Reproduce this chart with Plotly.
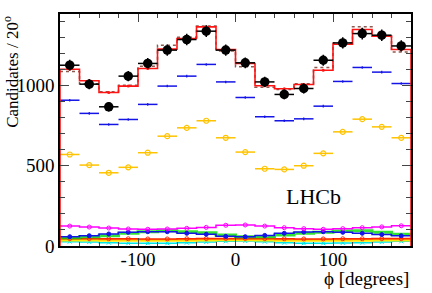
import numpy as np
import plotly.graph_objects as go

# ---- data ----
bin_edges = list(range(-180, 181, 20))
bin_centers = list(range(-170, 171, 20))

data_vals = [1126, 1008, 867, 1058, 1137, 1220, 1286, 1338, 1220, 1141,
             1022, 944, 981, 1157, 1265, 1323, 1313, 1246]
total_fit = [1101, 1029, 956, 996, 1106, 1226, 1292, 1365, 1224, 1137,
             998, 979, 1006, 1095, 1257, 1348, 1307, 1224]
alt_fit = [1087, 1010, 960, 1002, 1120, 1251, 1300, 1370, 1215, 1116,
           988, 975, 1010, 1112, 1265, 1365, 1307, 1209]
blue_comp = [908, 826, 757, 788, 882, 996, 1058, 1131, 1022, 925,
             805, 780, 792, 871, 1025, 1112, 1083, 1012]
gold_comp = [570, 504, 456, 490, 581, 684, 736, 780, 674, 585,
             481, 477, 500, 577, 711, 790, 742, 674]
magenta_comp = [124, 118, 112, 106, 104, 106, 110, 116, 129, 131,
                124, 114, 108, 104, 108, 114, 119, 126]
blue_small = [58, 64, 75, 85, 89, 89, 79, 73, 60, 58,
              66, 79, 87, 89, 85, 79, 71, 64]
green_small = [52, 58, 64, 79, 89, 95, 89, 83, 68, 58,
               58, 68, 79, 85, 93, 95, 85, 73]
red_small = [46, 46, 45, 45, 44, 44, 45, 46, 47, 47,
             46, 45, 44, 44, 45, 45, 46, 46]
orange_small = [41, 41, 40, 40, 40, 40, 40, 41, 41, 41,
                41, 40, 40, 40, 40, 41, 41, 41]
yellow_small = [36, 36, 35, 35, 34, 34, 35, 36, 37, 37,
                36, 35, 34, 34, 35, 35, 36, 36]
cyan_small = [27, 25, 21, 17, 17, 17, 21, 25, 29, 31,
              27, 21, 17, 17, 19, 21, 25, 29]

x_ticks = [-100, 0, 100]
x_tick_labels = ["-100", "0", "100"]
y_ticks = [0, 500, 1000]
y_tick_labels = ["0", "500", "1000"]

FONT = "Liberation Serif"

def step(vals, close=False):
    xs = list(bin_edges[:-1]) + [bin_edges[-1]]
    ys = list(vals) + [vals[-1]]
    if close:
        xs = [bin_edges[0]] + xs + [bin_edges[-1]]
        ys = [0] + ys + [0]
    return xs, ys

fig = go.Figure()

# small components (step histograms)
small = [
    (cyan_small, "rgb(0,230,230)", "x-thin-open", 1.5),
    (yellow_small, "rgb(255,230,0)", None, 2.5),
    (orange_small, "rgb(255,150,0)", None, 1.2),
    (red_small, "rgb(255,40,0)", "circle-open", 1.5),
    (green_small, "rgba(0,220,0,0.8)", None, 3),
    (blue_small, "rgb(20,20,230)", "circle", 1.5),
    (magenta_comp, "rgb(255,0,255)", "circle-open", 1.5),
]
for vals, col, sym, w in small:
    xs, ys = step(vals)
    fig.add_trace(go.Scatter(x=xs, y=ys, mode="lines", line=dict(color=col, width=w, shape="hv"),
                             hoverinfo="skip"))
    if sym:
        fig.add_trace(go.Scatter(x=bin_centers, y=vals, mode="markers",
                                 marker=dict(symbol=sym, size=4, color=col, line=dict(color=col, width=1)),
                                 hoverinfo="skip"))

# gold component
fig.add_trace(go.Scatter(x=bin_centers, y=gold_comp, mode="markers",
                         marker=dict(symbol="circle-open", size=5, color="rgb(255,195,0)",
                                     line=dict(color="rgb(255,195,0)", width=1.2)),
                         error_x=dict(type="constant", value=10, width=0, color="rgb(255,195,0)", thickness=1.5)))
# blue component
fig.add_trace(go.Scatter(x=bin_centers, y=blue_comp, mode="markers",
                         marker=dict(size=1, color="rgb(20,20,230)"),
                         error_x=dict(type="constant", value=10, width=0, color="rgb(20,20,230)", thickness=1.5),
                         error_y=dict(type="constant", value=8, width=0, color="rgb(20,20,230)", thickness=1.2)))

# alternative fit (dashed)
xs, ys = step(alt_fit)
fig.add_trace(go.Scatter(x=xs, y=ys, mode="lines",
                         line=dict(color="rgb(140,90,80)", width=1.5, dash="dot", shape="hv")))
# total fit
xs, ys = step(total_fit, close=True)
fig.add_trace(go.Scatter(x=xs, y=ys, mode="lines",
                         line=dict(color="rgb(255,20,20)", width=1.6, shape="hv")))
fig.add_trace(go.Scatter(x=bin_centers, y=total_fit, mode="markers",
                         marker=dict(size=3, color="rgb(255,20,20)")))

# data
fig.add_trace(go.Scatter(x=bin_centers, y=data_vals, mode="markers",
                         marker=dict(symbol="circle", size=9.5, color="black"),
                         error_x=dict(type="constant", value=10, width=0, color="black", thickness=1.5),
                         error_y=dict(type="data", array=[float(np.sqrt(v)) for v in data_vals],
                                      width=0, color="black", thickness=1.5)))

fig.update_layout(
    width=432, height=293,
    margin=dict(l=60, r=21, t=14, b=47),
    plot_bgcolor="white", paper_bgcolor="white",
    showlegend=False,
    font=dict(family=FONT, size=18, color="black"),
    xaxis=dict(range=[-180, 180], tickvals=x_ticks, ticktext=x_tick_labels,
               ticks="inside", ticklen=8, tickwidth=1,
               showline=True, linecolor="black", linewidth=1.5, mirror="allticks",
               showgrid=False, zeroline=False, automargin=False, ticklabelstandoff=-5,
               minor=dict(dtick=20, tick0=0, ticks="inside", ticklen=4, showgrid=False),
               tickfont=dict(family=FONT, size=19)),
    yaxis=dict(range=[0, 1445], tickvals=y_ticks, ticktext=y_tick_labels,
               ticks="inside", ticklen=9, tickwidth=1,
               showline=True, linecolor="black", linewidth=1.5, mirror="allticks",
               showgrid=False, zeroline=False, automargin=False,
               minor=dict(dtick=100, tick0=0, ticks="inside", ticklen=5, showgrid=False),
               tickfont=dict(family=FONT, size=19)),
    annotations=[
        dict(text="Candidates / 20<sup>o</sup>", xref="paper", yref="paper", x=-0.14, y=1.0,
             xanchor="center", yanchor="top", textangle=-90, showarrow=False,
             font=dict(family=FONT, size=17)),
        dict(text="ϕ [degrees]", xref="paper", yref="paper", x=1.0, y=-0.088,
             xanchor="right", yanchor="top", showarrow=False,
             font=dict(family=FONT, size=19)),
        dict(text="LHCb", xref="x", yref="y", x=80, y=310,
             xanchor="center", yanchor="middle", showarrow=False,
             font=dict(family=FONT, size=22)),
    ],
)

fig.write_html("out.html", config={"displayModeBar": False},
               post_script="document.body.style.margin='0';document.body.style.overflow='hidden';")
